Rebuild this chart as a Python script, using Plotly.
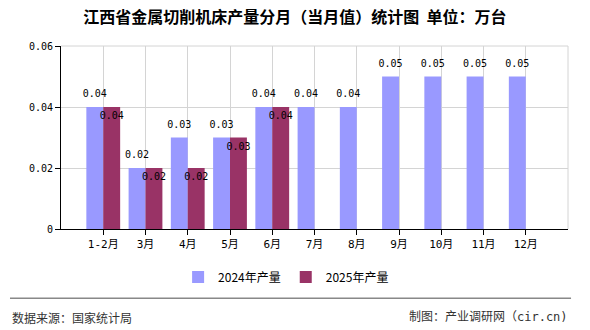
import plotly.graph_objects as go

categories = ["1-2月", "3月", "4月", "5月", "6月", "7月", "8月", "9月", "10月", "11月", "12月"]
values_2024 = [0.04, 0.02, 0.03, 0.03, 0.04, 0.04, 0.04, 0.05, 0.05, 0.05, 0.05]
values_2025 = [0.04, 0.02, 0.02, 0.03, 0.04]
labels_2024 = ["0.04", "0.02", "0.03", "0.03", "0.04", "0.04", "0.04", "0.05", "0.05", "0.05", "0.05"]
labels_2025 = ["0.04", "0.02", "0.02", "0.03", "0.04"]
y_ticks = [0, 0.02, 0.04, 0.06]
y_ticklabels = ["0", "0.02", "0.04", "0.06"]

idx24 = list(range(len(values_2024)))
idx25 = list(range(len(values_2025)))

FONT = "Noto Sans CJK SC"
MONO = "DejaVu Sans Mono, Noto Sans CJK SC"
C24 = "#9999FF"
C25 = "#993366"

fig = go.Figure()
fig.add_trace(go.Bar(x=idx24, y=values_2024, name="2024年产量", marker_color=C24,
                     offset=-0.4, width=0.4, marker_line_width=0))
fig.add_trace(go.Bar(x=idx25, y=values_2025, name="2025年产量", marker_color=C25,
                     offset=0.0, width=0.4, marker_line_width=0))
fig.add_trace(go.Scatter(x=[i - 0.2 for i in idx24], y=values_2024, mode="markers+text",
                         text=labels_2024, textposition="top center",
                         marker=dict(size=10, opacity=0),
                         textfont=dict(family=MONO, size=10, color="#000"),
                         showlegend=False, hoverinfo="skip"))
fig.add_trace(go.Scatter(x=[i + 0.2 for i in idx25], y=values_2025, mode="markers+text",
                         text=labels_2025, textposition="bottom center",
                         marker=dict(size=6, opacity=0),
                         textfont=dict(family=MONO, size=10, color="#000"),
                         showlegend=False, hoverinfo="skip"))

fig.update_layout(
    width=590, height=330,
    margin=dict(l=61, r=22, t=46, b=101),
    paper_bgcolor="white", plot_bgcolor="white",
    font=dict(family=FONT, size=11, color="#000"),
    title=dict(text="<b>江西省金属切削机床产量分月（当月值）统计图  单位：万台</b>",
               x=0.5, xanchor="center", y=0.948, yanchor="middle",
               font=dict(family=FONT, size=16, color="#000")),
    showlegend=True,
    legend=dict(orientation="h", x=0.444, xanchor="center", y=-0.262, yanchor="middle",
                font=dict(family=FONT, size=12, color="#000"), itemwidth=30,
                traceorder="normal"),
    bargap=0.2,
    xaxis=dict(range=[-1, 11], tickvals=idx24, ticktext=categories,
               showgrid=True, gridcolor="#d4d4d4", gridwidth=1,
               showline=True, linecolor="#000", linewidth=1,
               ticks="outside", ticklen=5, tickcolor="#000",
               tickfont=dict(family=MONO, size=11, color="#000"), zeroline=False),
    yaxis=dict(range=[0, 0.06], tickvals=y_ticks, ticktext=y_ticklabels,
               showgrid=True, gridcolor="#d4d4d4", gridwidth=1,
               showline=True, linecolor="#000", linewidth=1,
               ticks="outside", ticklen=5, tickcolor="#000",
               tickfont=dict(family=MONO, size=10, color="#000"), zeroline=False),
    shapes=[
        dict(type="line", xref="paper", yref="paper", x0=1, x1=1, y0=0, y1=1,
             line=dict(color="#d4d4d4", width=1)),
        dict(type="line", xref="paper", yref="paper", x0=0, x1=1, y0=1, y1=1,
             line=dict(color="#d4d4d4", width=1)),
        dict(type="line", xref="paper", yref="paper", x0=-0.1006, x1=1.006,
             y0=-0.378, y1=-0.378, line=dict(color="#888888", width=1.5)),
    ],
    annotations=[
        dict(text="数据来源：国家统计局", xref="paper", yref="paper", x=-0.1006, y=-0.481,
             xanchor="left", yanchor="middle", showarrow=False,
             font=dict(family=FONT, size=12, color="#333")),
        dict(text="制图：产业调研网（cir.cn)", xref="paper", yref="paper", x=1.004, y=-0.481,
             xanchor="right", yanchor="middle", showarrow=False,
             font=dict(family=MONO, size=12, color="#333")),
    ],
)

fig.write_html("out.html")
